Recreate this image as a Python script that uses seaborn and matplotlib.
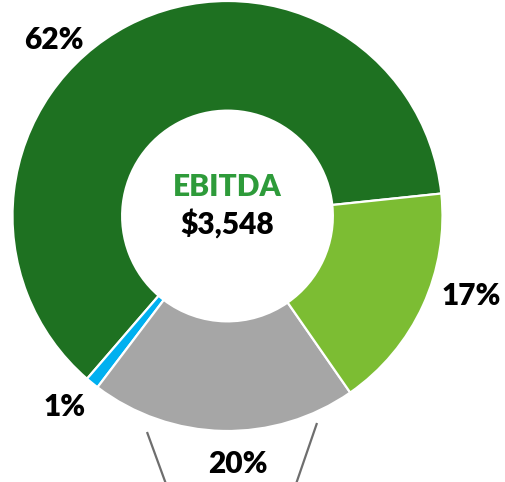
#!/usr/bin/env python3

import matplotlib.pyplot as plt
import numpy as np
import seaborn as sns

sns.set_theme(style="white")
plt.rcParams["font.family"] = ["Lato", "DejaVu Sans"]

# Data: EBITDA split (counter-clockwise from the right)
segments = ["Dark green", "Blue", "Gray", "Light green"]
shares = [62, 1, 20, 17]
colors = ["#1E7121", "#00B0F0", "#A6A6A6", "#7CBD33"]
total_label = "EBITDA"
total_value = "$3,548"

W, H = 506, 482
CX, CY, R = 227.5, 216, 215  # center and radius in pixels


def px(x, y):
    # pixel position -> data coords (radius 1 == R pixels)
    return (x - CX) / R, (CY - y) / R


fig = plt.figure(figsize=(W / 100, H / 100), dpi=100)
ax = fig.add_axes([0, 0, 1, 1])

ax.pie(
    shares, colors=colors, startangle=6, counterclock=True, radius=1,
    wedgeprops=dict(width=0.51, edgecolor="white", linewidth=1.6),
)

x0, y0 = px(0, 0)
x1, y1 = px(W, H)
ax.set(xlim=(x0, x1), ylim=(y1, y0))
ax.set_aspect("equal")
ax.axis("off")

# Percent labels
label_pos = [(54, 40), (65, 407), (238, 464), (471, 296)]
for share, (lx, ly) in zip(shares, label_pos):
    ax.text(*px(lx, ly), f"{share}%", ha="center", va="center",
            fontsize=21.5, fontweight="heavy", color="black")

# Center text
ax.text(*px(227, 187), total_label, ha="center", va="center",
        fontsize=21.5, fontweight="heavy", color="#2E9B3A")
ax.text(*px(227, 224), total_value, ha="center", va="center",
        fontsize=21.5, fontweight="heavy", color="black")

# Bracket lines under the gray slice
for (ax_, ay_), (bx_, by_) in [((147, 432), (166, 484)), ((317, 423), (296, 484))]:
    (xa, ya), (xb, yb) = px(ax_, ay_), px(bx_, by_)
    ax.plot([xa, xb], [ya, yb], color="#6E6E6E", linewidth=1.6,
            solid_capstyle="butt", clip_on=False)

fig.savefig("out.png", dpi=100)
